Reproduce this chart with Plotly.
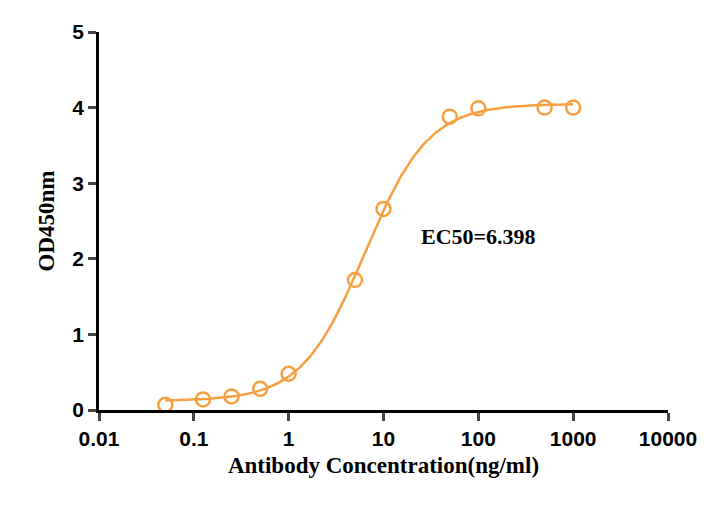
import numpy as np
import plotly.graph_objects as go

conc = [0.05, 0.125, 0.25, 0.5, 1, 5, 10, 50, 100, 500, 1000]
od = [0.07, 0.14, 0.18, 0.28, 0.48, 1.72, 2.66, 3.88, 3.99, 4.0, 4.0]
bottom, top, ec50, hill = 0.12, 4.05, 6.398, 1.3
xticks = [0.01, 0.1, 1, 10, 100, 1000, 10000]
xlabels = ["0.01", "0.1", "1", "10", "100", "1000", "10000"]

color = "#F7A040"
xf = np.logspace(np.log10(0.05), np.log10(1000), 300)
yf = bottom + (top - bottom) / (1 + (ec50 / xf) ** hill)

fig = go.Figure()
fig.add_trace(go.Scatter(x=xf, y=yf, mode="lines", line=dict(color=color, width=2.5), showlegend=False))
fig.add_trace(go.Scatter(x=conc, y=od, mode="markers",
                         marker=dict(symbol="circle-open", size=14, color=color, line=dict(width=2.5, color=color)),
                         showlegend=False))
fig.add_annotation(x=np.log10(100), y=2.3, text="<b>EC50=6.398</b>", showarrow=False,
                   font=dict(family="Liberation Serif", size=22, color="black"))
tickfont = dict(family="Liberation Sans", size=21, color="black", weight="bold")
fig.update_layout(
    width=713, height=513, plot_bgcolor="white", paper_bgcolor="white",
    margin=dict(l=91, r=53, t=20, b=111),
    xaxis=dict(type="log", range=[-2, 4], tickvals=xticks, ticktext=xlabels,
               showline=True, linecolor="black", linewidth=2.5, ticks="outside", ticklen=8, tickwidth=2.5,
               showgrid=False, zeroline=False, tickfont=tickfont,
               title=dict(text="<b>Antibody Concentration(ng/ml)</b>",
                          font=dict(family="Liberation Serif", size=23, color="black"), standoff=8)),
    yaxis=dict(range=[0, 5], tickvals=[0, 1, 2, 3, 4, 5],
               showline=True, linecolor="black", linewidth=2.5, ticks="outside", ticklen=8, tickwidth=2.5,
               showgrid=False, zeroline=False, tickfont=tickfont,
               title=dict(text="<b>OD450nm</b>",
                          font=dict(family="Liberation Serif", size=23, color="black"), standoff=12)),
)
fig.write_html("out.html")
